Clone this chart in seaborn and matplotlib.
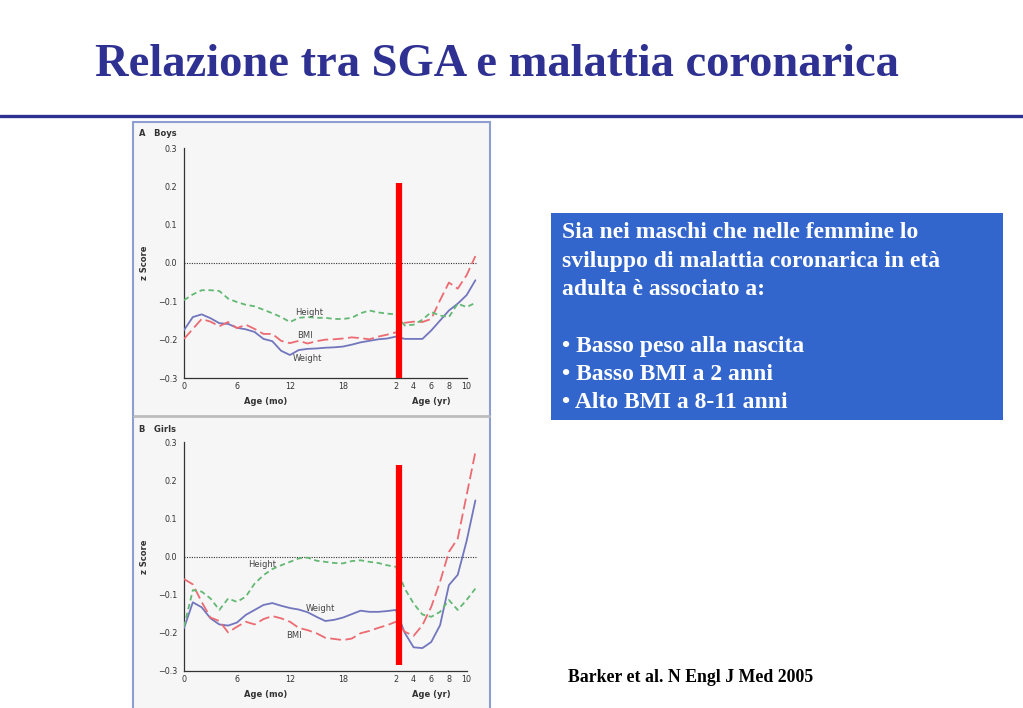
import numpy as np
import pandas as pd
import matplotlib
matplotlib.use("Agg")
import matplotlib.pyplot as plt
from matplotlib.patches import Rectangle
from matplotlib.lines import Line2D
import seaborn as sns

OUTPUT_IMAGE = "out.png"
TITLE = "Relazione tra SGA e malattia coronarica"
CITATION = "Barker et al. N Engl J Med 2005"
BOX_LINES = [
    "Sia nei maschi che nelle femmine lo",
    "sviluppo di malattia coronarica in età",
    "adulta è associato a:",
    "",
    "• Basso peso alla nascita",
    "• Basso BMI a 2 anni",
    "• Alto BMI a 8-11 anni",
]

# Age axis: months 0..24, then years 3..11 (1 year drawn as wide as 1 month)
AGE_MONTHS = list(range(0, 25))
AGE_YEARS = [3, 4, 5, 6, 7, 8, 9, 10, 11]

BOYS_WEIGHT = [-0.175, -0.141, -0.134, -0.144, -0.157, -0.159, -0.169, -0.173, -0.180,
               -0.198, -0.204, -0.229, -0.240, -0.227, -0.224, -0.223, -0.221, -0.220,
               -0.218, -0.213, -0.207, -0.203, -0.199, -0.197, -0.192,
               -0.198, -0.198, -0.198, -0.176, -0.150, -0.124, -0.106, -0.084, -0.045]
BOYS_BMI = [-0.198, -0.172, -0.146, -0.153, -0.165, -0.154, -0.170, -0.161, -0.172,
            -0.185, -0.185, -0.203, -0.209, -0.203, -0.210, -0.204, -0.200, -0.199,
            -0.197, -0.194, -0.196, -0.199, -0.192, -0.187, -0.181,
            -0.156, -0.153, -0.154, -0.146, -0.097, -0.051, -0.067, -0.032, 0.018]
BOYS_HEIGHT = [-0.097, -0.082, -0.071, -0.071, -0.073, -0.093, -0.102, -0.109, -0.113,
               -0.122, -0.131, -0.141, -0.154, -0.143, -0.141, -0.143, -0.143, -0.146,
               -0.146, -0.143, -0.131, -0.124, -0.129, -0.132, -0.134,
               -0.163, -0.161, -0.148, -0.128, -0.137, -0.141, -0.106, -0.115, -0.104]

GIRLS_WEIGHT = [-0.188, -0.120, -0.133, -0.162, -0.178, -0.181, -0.173, -0.153, -0.140,
                -0.127, -0.122, -0.129, -0.135, -0.139, -0.146, -0.158, -0.169, -0.166,
                -0.160, -0.151, -0.142, -0.145, -0.145, -0.143, -0.140,
                -0.200, -0.238, -0.240, -0.224, -0.180, -0.075, -0.048, 0.040, 0.147]
GIRLS_BMI = [-0.059, -0.073, -0.119, -0.160, -0.169, -0.199, -0.184, -0.171, -0.178,
             -0.164, -0.156, -0.162, -0.171, -0.187, -0.193, -0.201, -0.213, -0.216,
             -0.219, -0.215, -0.201, -0.195, -0.187, -0.180, -0.171,
             -0.197, -0.208, -0.180, -0.132, -0.066, 0.012, 0.047, 0.160, 0.274]
GIRLS_HEIGHT = [-0.184, -0.088, -0.092, -0.110, -0.140, -0.110, -0.119, -0.105, -0.071,
                -0.049, -0.033, -0.023, -0.014, -0.005, -0.003, -0.011, -0.014, -0.017,
                -0.018, -0.012, -0.010, -0.014, -0.017, -0.023, -0.027,
                -0.084, -0.123, -0.152, -0.158, -0.145, -0.114, -0.140, -0.114, -0.084]

TICK_MONTHS = [0, 6, 12, 18]
TICK_YEARS = [2, 4, 6, 8, 10]
Y_TICKS = [-0.3, -0.2, -0.1, 0.0, 0.1, 0.2, 0.3]

COLORS = {"Weight": "#7276bd", "BMI": "#ec6b72", "Height": "#63b874"}
DASHES = {"Weight": "", "BMI": (6, 2.5), "Height": (3, 2)}


def year_pos(y):
    return 24 + (y - 2)


def positions():
    return AGE_MONTHS + [year_pos(y) for y in AGE_YEARS]


def build_frame(weight, bmi, height):
    pos = positions()
    frames = []
    for name, vals in [("Weight", weight), ("BMI", bmi), ("Height", height)]:
        frames.append(pd.DataFrame({"pos": pos, "z": vals, "measure": name}))
    return pd.concat(frames, ignore_index=True)


def draw_panel(fig, rect, df, labels, bar_span, panel_title, title_y):
    ax = fig.add_axes(rect)
    ax.set_facecolor("none")
    sns.lineplot(data=df, x="pos", y="z", hue="measure", style="measure",
                 palette=COLORS, dashes=DASHES, linewidth=1.3, legend=False,
                 ax=ax, zorder=3)
    ax.set_xlim(0, 34)
    ax.set_ylim(-0.3, 0.3)
    for s in ["top", "right"]:
        ax.spines[s].set_visible(False)
    for s in ["left", "bottom"]:
        ax.spines[s].set_color("#333333")
        ax.spines[s].set_linewidth(0.9)
    ax.spines["bottom"].set_bounds(0, year_pos(10))

    major = TICK_MONTHS + [year_pos(y) for y in TICK_YEARS]
    ax.set_xticks(major)
    ax.set_xticklabels([str(m) for m in TICK_MONTHS] + [str(y) for y in TICK_YEARS])
    ax.set_xticks(list(range(0, year_pos(10) + 1)), minor=True)
    ax.tick_params(axis="x", which="both", direction="in", length=3.5, width=0.7,
                   color="#333333", labelsize=5.8, pad=3, labelcolor="#333333")
    ax.set_yticks(Y_TICKS)
    ax.set_yticklabels([f"{v:.1f}".replace("-", "\u2212") for v in Y_TICKS])
    ax.tick_params(axis="y", direction="out", length=4, width=0.7, color="#333333",
                   labelsize=5.8, pad=1, labelcolor="#333333")
    ax.set_xlabel("")
    ax.set_ylabel("z Score", fontsize=6, fontweight="bold", color="#333333", labelpad=6)

    ax.hlines(0, 0, 33.2, colors="#333333", linestyles=(0, (1, 1.2)), linewidth=0.8, zorder=2)

    for name, (x, y) in labels.items():
        ax.text(x, y, name, fontsize=6, color="#444444", ha="center", va="center")

    ax.text(9.2, -0.362, "Age (mo)", fontsize=6, fontweight="bold", color="#333333",
            ha="center", va="center")
    ax.text(year_pos(6), -0.362, "Age (yr)", fontsize=6, fontweight="bold",
            color="#333333", ha="center", va="center")

    # red highlight bar at 2 years
    ax.axvline(24.35, ymin=bar_span[0], ymax=bar_span[1], color="#ff0000",
               linewidth=4.5, zorder=5, solid_capstyle="butt")

    fig.text(139 / W, 1 - title_y / H, panel_title, fontsize=6, fontweight="bold",
             color="#333333", ha="left", va="center")
    return ax


W, H = 1023, 708

sns.set_theme(style="white")
plt.rcParams["font.family"] = ["DejaVu Sans"]

fig = plt.figure(figsize=(W / 100, H / 100), dpi=100)
fig.patch.set_facecolor("white")

# title and rule
fig.text(497 / W, 1 - 65 / H, TITLE, fontsize=33.5, fontweight="bold",
         family=["Liberation Serif", "DejaVu Serif"], color="#2e3192",
         ha="center", va="center")
fig.add_artist(Line2D([0, 1], [1 - 116 / H] * 2, color="#2e3192", linewidth=2.4))

# figure frame (light gray picture)
fig.add_artist(Rectangle((133 / W, -0.01), (490 - 133) / W, (708 - 122) / H + 0.01,
                         transform=fig.transFigure, facecolor="#f6f6f6",
                         edgecolor="#8c9fd0", linewidth=1.5, zorder=0))
fig.add_artist(Line2D([134 / W, 489 / W], [1 - 416 / H] * 2, color="#bdbdbd",
                      linewidth=2))

boys = build_frame(BOYS_WEIGHT, BOYS_BMI, BOYS_HEIGHT)
girls = build_frame(GIRLS_WEIGHT, GIRLS_BMI, GIRLS_HEIGHT)

draw_panel(fig, [184 / W, (708 - 378) / H, 34 * 8.83 / W, 230 / H], boys,
           {"Height": (14.2, -0.128), "BMI": (13.7, -0.188), "Weight": (14.0, -0.248)},
           (0.0, 0.848), "A   Boys", 134)
draw_panel(fig, [184 / W, (708 - 671) / H, 34 * 8.83 / W, 229 / H], girls,
           {"Height": (8.9, -0.02), "Weight": (15.4, -0.135), "BMI": (12.5, -0.208)},
           (0.026, 0.9), "B   Girls", 430)

# blue text box
fig.add_artist(Rectangle((551 / W, 1 - 420 / H), (1003 - 551) / W, (420 - 213) / H,
                         transform=fig.transFigure, facecolor="#3366cc",
                         edgecolor="none", zorder=1))
line_y = [233, 261, 290, 318, 347, 375, 402]
for txt, y in zip(BOX_LINES, line_y):
    fig.text(562 / W, 1 - y / H, txt, fontsize=17, fontweight="bold",
             family=["Liberation Serif", "DejaVu Serif"], color="white",
             ha="left", va="center", zorder=2)

fig.text(568 / W, 1 - 678 / H, CITATION, fontsize=12.8, fontweight="bold",
         family=["Liberation Serif", "DejaVu Serif"], color="black",
         ha="left", va="center")

fig.savefig(OUTPUT_IMAGE, dpi=100)
